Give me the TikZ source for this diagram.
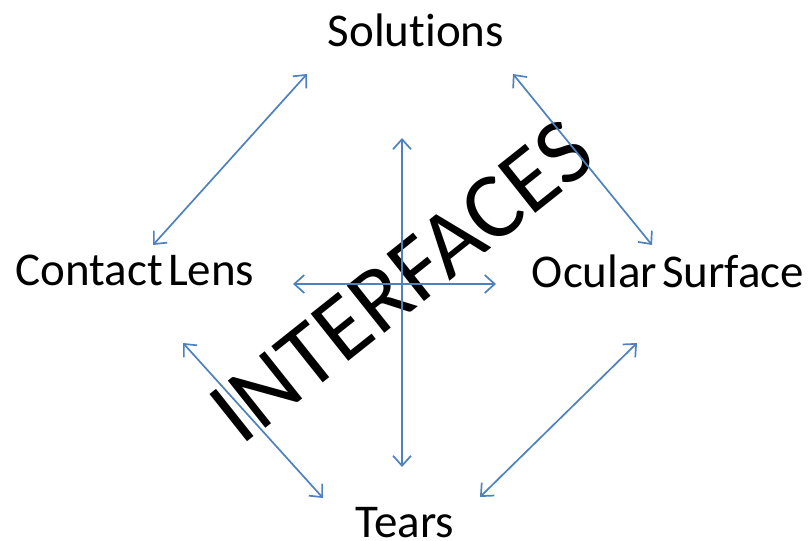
\documentclass[tikz,border=0pt]{standalone}
\usepackage{fontspec}
\setmainfont[Ligatures=NoCommon]{Carlito}
\usetikzlibrary{arrows.meta}
\definecolor{linkblue}{HTML}{4F81BD}
\tikzset{
  term/.style={font=\fontsize{47}{52}\selectfont, inner sep=0pt, anchor=base},
  bigword/.style={font=\fontsize{94}{100}\selectfont, inner sep=0pt, rotate=38.5},
  both/.style={{Straight Barb[length=10pt,width=18pt]}-{Straight Barb[length=10pt,width=18pt]}, linkblue, line width=1.7pt},
}

\begin{document}
\begin{tikzpicture}[x=1pt, y=-1pt]
  \useasboundingbox (0,0) rectangle (810,540);

  % the four terms
  \node[term] (sol)    at (416,47)  {Solutions};
  \node[term] (lens)   at (135,285) {Contact\hspace{-0.12em} Lens};
  \node[term] (ocular) at (668,287) {Ocular\hspace{-0.12em} Surface};
  \node[term] (tears)  at (405,537) {Tears};

  % the word across the middle
  \node[bigword] (iface) at (402,281) {INTERFACES};

  % arrow ends
  \coordinate (ls-a) at (153,245);
  \coordinate (ls-b) at (307,74);
  \coordinate (so-a) at (513,74);
  \coordinate (so-b) at (652,245);
  \coordinate (lt-a) at (183,343);
  \coordinate (lt-b) at (323,498);
  \coordinate (ot-a) at (480,497);
  \coordinate (ot-b) at (637,343);
  \coordinate (up)    at (402,138);
  \coordinate (down)  at (402,467);
  \coordinate (left)  at (293,284);
  \coordinate (right) at (496,284);

  \draw[both] (ls-a) -- (ls-b);
  \draw[both] (so-a) -- (so-b);
  \draw[both] (lt-a) -- (lt-b);
  \draw[both] (ot-a) -- (ot-b);
  \draw[both] (up) -- (down);
  \draw[both] (left) -- (right);
\end{tikzpicture}
\end{document}
